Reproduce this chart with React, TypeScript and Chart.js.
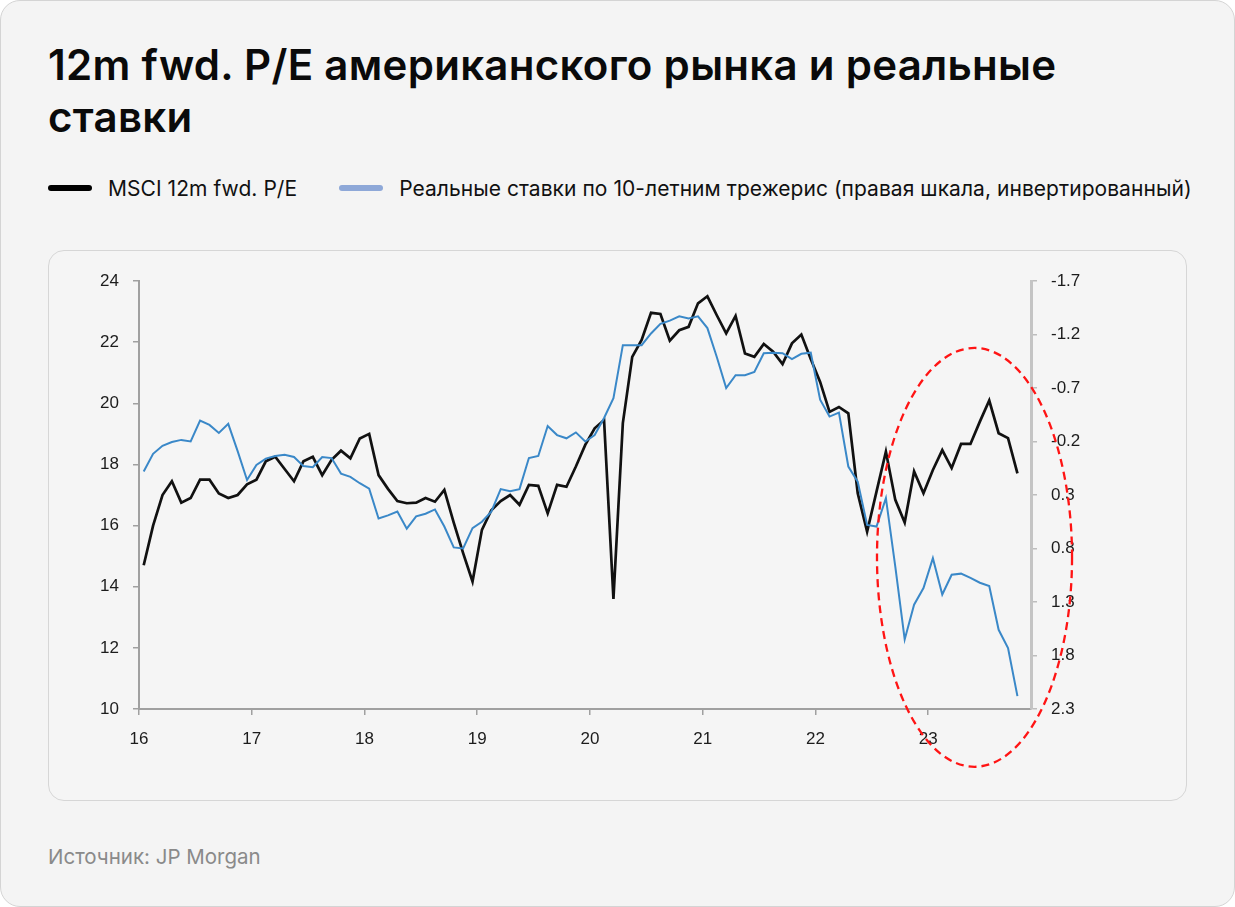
import React, { useEffect, useRef } from "react";
import { Chart, registerables } from "chart.js";

Chart.register(...registerables);

// ---------- DATA ----------
const startYear = 2016;
const monthCount = 94; // Jan 2016 .. Oct 2023
const months: string[] = [];
for (let i = 0; i < monthCount; i++) {
  const y = startYear + Math.floor(i / 12);
  const m = (i % 12) + 1;
  months.push(`${y}-${m < 10 ? "0" + m : m}`);
}

// MSCI 12m fwd. P/E (left axis)
const peValues = [
  14.7, 16.0, 17.0, 17.45, 16.75, 16.9, 17.5, 17.5, 17.05, 16.9, 17.0, 17.35,
  17.5, 18.1, 18.25, 17.85, 17.45, 18.1, 18.25, 17.65, 18.15, 18.45, 18.2, 18.85,
  19.0, 17.65, 17.2, 16.8, 16.73, 16.75, 16.9, 16.78, 17.17, 16.1, 15.1, 14.17,
  15.86, 16.5, 16.8, 17.0, 16.68, 17.33, 17.3, 16.4, 17.33, 17.27, 17.93, 18.64,
  19.18, 19.45, 13.6, 19.35, 21.52, 22.07, 22.96, 22.92, 22.05, 22.39, 22.5, 23.27,
  23.5, 22.88, 22.29, 22.86, 21.63, 21.52, 21.94, 21.69, 21.28, 21.96, 22.25, 21.45,
  20.7, 19.72, 19.88, 19.67, 17.06, 15.8, 17.11, 18.42, 16.84, 16.1, 17.77, 17.06,
  17.82, 18.47, 17.88, 18.67, 18.67, 19.4, 20.09, 19.02, 18.86, 17.71,
];

// Real 10Y Treasury yields (right axis, inverted)
const realRateValues = [
  0.08, -0.085, -0.16, -0.195, -0.215, -0.2, -0.395, -0.355, -0.28, -0.365, -0.11, 0.16,
  0.02, -0.04, -0.065, -0.075, -0.055, 0.03, 0.04, -0.055, -0.045, 0.1, 0.13, 0.19,
  0.24, 0.52, 0.49, 0.455, 0.615, 0.5, 0.475, 0.435, 0.595, 0.79, 0.8, 0.61,
  0.55, 0.455, 0.245, 0.265, 0.245, -0.045, -0.065, -0.345, -0.26, -0.23, -0.285, -0.2,
  -0.26, -0.42, -0.605, -1.1, -1.1, -1.1, -1.21, -1.3, -1.33, -1.37, -1.35, -1.37,
  -1.26, -0.99, -0.7, -0.82, -0.82, -0.85, -1.025, -1.03, -1.025, -0.97, -1.02, -1.03,
  -0.59, -0.433, -0.47, 0.034, 0.175, 0.58, 0.595, 0.33, 0.97, 1.65, 1.325, 1.17,
  0.89, 1.23, 1.045, 1.035, 1.075, 1.12, 1.15, 1.56, 1.73, 2.18,
];

const yearTicks = [16, 17, 18, 19, 20, 21, 22, 23];
const leftTicks = [10, 12, 14, 16, 18, 20, 22, 24];
const rightTicks = [-1.7, -1.2, -0.7, -0.2, 0.3, 0.8, 1.3, 1.8, 2.3];

// highlighted region (data units: x = year, y = left axis value)
const ellipseCenter = [23.411, 14.96];
const ellipseRadius = [0.865, 6.85];

const titleText = "12m fwd. P/E американского рынка и реальные";
const titleText2 = "ставки";
const seriesNames = [
  "MSCI 12m fwd. P/E",
  "Реальные ставки по 10-летним трежерис (правая шкала, инвертированный)",
];
const sourceText = "Источник: JP Morgan";

// ---------- HELPERS ----------
const monthToX = (label: string) => {
  const [y, m] = label.split("-").map(Number);
  return y - 2000 + (m - 0.5) / 12;
};

const tickFont = { family: "'Liberation Sans', Arial, sans-serif", size: 17 };
const tickColor = "#1c1c1c";

const ellipsePlugin = {
  id: "highlightEllipse",
  afterDraw(chart: any) {
    const { ctx, scales } = chart;
    const xs = scales.x;
    const ys = scales.y;
    const cx = xs.getPixelForValue(ellipseCenter[0]);
    const rx = xs.getPixelForValue(ellipseCenter[0] + ellipseRadius[0]) - cx;
    const cy = ys.getPixelForValue(ellipseCenter[1]);
    const ry = cy - ys.getPixelForValue(ellipseCenter[1] + ellipseRadius[1]);
    ctx.save();
    ctx.setLineDash([8, 5]);
    ctx.strokeStyle = "#ff1414";
    ctx.lineWidth = 2.3;
    ctx.beginPath();
    ctx.ellipse(cx, cy, rx, ry, 0, 0, Math.PI * 2);
    ctx.stroke();
    ctx.restore();
  },
};

function ChartCanvas() {
  const ref = useRef<HTMLCanvasElement | null>(null);
  useEffect(() => {
    if (!ref.current) return;
    const chart = new Chart(ref.current, {
      type: "line",
      data: {
        datasets: [
          {
            label: seriesNames[1],
            data: months.map((mo, i) => ({ x: monthToX(mo), y: realRateValues[i] })),
            yAxisID: "y1",
            borderColor: "#3a88c8",
            borderWidth: 2,
            pointRadius: 0,
            tension: 0,
          },
          {
            label: seriesNames[0],
            data: months.map((mo, i) => ({ x: monthToX(mo), y: peValues[i] })),
            yAxisID: "y",
            borderColor: "#111",
            borderWidth: 2.7,
            pointRadius: 0,
            tension: 0,
          },
        ],
      },
      options: {
        animation: false,
        responsive: false,
        events: [],
        layout: { padding: { top: 31, left: 0, right: 0, bottom: 0 } },
        plugins: { legend: { display: false }, tooltip: { enabled: false } },
        scales: {
          x: {
            type: "linear",
            position: "bottom",
            min: 16,
            max: 23.912,
            afterBuildTicks: (s: any) => {
              s.ticks = yearTicks.map((v) => ({ value: v }));
            },
            afterFit: (s: any) => {
              s.height = 92;
            },
            ticks: {
              callback: (v: any) => String(v),
              font: tickFont,
              color: tickColor,
              padding: 14,
              maxRotation: 0,
              autoSkip: false,
            },
            grid: { drawOnChartArea: false, drawTicks: true, tickLength: 6, color: "#a0a0a0", lineWidth: 1.5 },
            border: { display: true, color: "#a0a0a0", width: 2 },
          },
          y: {
            type: "linear",
            position: "left",
            min: 10,
            max: 24,
            afterBuildTicks: (s: any) => {
              s.ticks = leftTicks.map((v) => ({ value: v }));
            },
            afterFit: (s: any) => {
              s.width = 91;
            },
            ticks: { font: tickFont, color: tickColor, padding: 14 },
            grid: { drawOnChartArea: false, drawTicks: true, tickLength: 6, color: "#a0a0a0", lineWidth: 1.5 },
            border: { display: true, color: "#a0a0a0", width: 2 },
          },
          y1: {
            type: "linear",
            position: "right",
            reverse: true,
            min: -1.7,
            max: 2.3,
            afterBuildTicks: (s: any) => {
              s.ticks = rightTicks.map((v) => ({ value: v }));
            },
            afterFit: (s: any) => {
              s.width = 156;
            },
            ticks: {
              font: tickFont,
              color: tickColor,
              padding: 14,
              callback: (v: any) => Number(v).toFixed(1),
            },
            grid: { drawOnChartArea: false, drawTicks: true, tickLength: 6, color: "#bdbdbd", lineWidth: 1.5 },
            border: { display: true, color: "#c4c4c4", width: 3 },
          },
        },
      },
      plugins: [ellipsePlugin],
    } as any);
    return () => chart.destroy();
  }, []);
  return (
    <canvas
      ref={ref}
      width={1139}
      height={551}
      style={{ position: "absolute", left: 48, top: 250, width: 1139, height: 551 }}
    />
  );
}

export default function App() {
  useEffect(() => {
    document.body.style.margin = "0";
    document.body.style.background = "#ffffff";
  }, []);
  const sans = "Inter, 'Noto Sans', Roboto, sans-serif";
  return (
    <div style={{ position: "relative", width: 1235, height: 907, background: "#fff" }}>
      <div
        style={{
          position: "absolute",
          left: 0,
          top: 0,
          width: 1235,
          height: 907,
          boxSizing: "border-box",
          border: "1px solid #d4d4d4",
          borderRadius: 20,
          background: "#f4f4f4",
        }}
      />
      <div
        style={{
          position: "absolute",
          left: 48,
          top: 39,
          fontFamily: sans,
          fontWeight: 600,
          fontSize: 42,
          lineHeight: "52px",
          color: "#0a0a0a",
          letterSpacing: 0.3,
          whiteSpace: "nowrap",
        }}
      >
        {titleText}
        <br />
        {titleText2}
      </div>
      <div
        style={{
          position: "absolute",
          left: 48,
          top: 176,
          height: 24,
          display: "flex",
          alignItems: "center",
          fontFamily: sans,
          fontSize: 21,
          color: "#111",
          letterSpacing: 0.05,
          whiteSpace: "nowrap",
        }}
      >
        <span style={{ display: "inline-block", width: 44, height: 6, borderRadius: 3, background: "#000" }} />
        <span style={{ marginLeft: 16 }}>{seriesNames[0]}</span>
        <span
          style={{ display: "inline-block", width: 44, height: 6, borderRadius: 3, background: "#8ea8d8", marginLeft: 42 }}
        />
        <span style={{ marginLeft: 16 }}>{seriesNames[1]}</span>
      </div>
      <div
        style={{
          position: "absolute",
          left: 48,
          top: 250,
          width: 1139,
          height: 551,
          boxSizing: "border-box",
          border: "1px solid #d6d6d6",
          borderRadius: 16,
          background: "#f5f5f5",
        }}
      />
      <ChartCanvas />
      <div
        style={{
          position: "absolute",
          left: 48,
          top: 845,
          fontFamily: sans,
          fontSize: 20.5,
          lineHeight: "24px",
          color: "#8a8a8a",
          whiteSpace: "nowrap",
        }}
      >
        {sourceText}
      </div>
    </div>
  );
}
